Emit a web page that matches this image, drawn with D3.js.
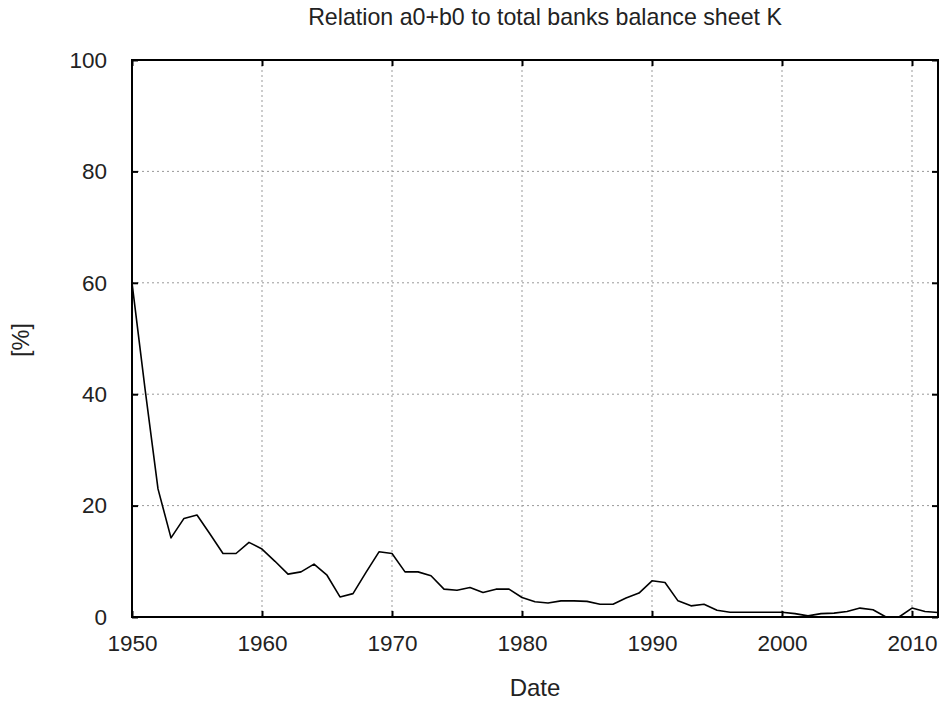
<!DOCTYPE html>
<html>
<head>
<meta charset="utf-8">
<script src="https://cdn.jsdelivr.net/npm/d3@7"></script>
<style>
    body { margin: 0; background: #fff; }
    svg { display: block; font-family: "Liberation Sans", Arial, sans-serif; }
    .grid line { stroke: #999; stroke-dasharray: 2,3; stroke-width: 1; }
</style>
</head>
<body>
<div id="chart"></div>
<script>

// yearly values
let years = [1950, 1951, 1952, 1953, 1954, 1955, 1956, 1957, 1958, 1959,
    1960, 1961, 1962, 1963, 1964, 1965, 1966, 1967, 1968, 1969,
    1970, 1971, 1972, 1973, 1974, 1975, 1976, 1977, 1978, 1979,
    1980, 1981, 1982, 1983, 1984, 1985, 1986, 1987, 1988, 1989,
    1990, 1991, 1992, 1993, 1994, 1995, 1996, 1997, 1998, 1999,
    2000, 2001, 2002, 2003, 2004, 2005, 2006, 2007, 2008, 2009,
    2010, 2011, 2012];
let ratio = [60, 41, 23, 14.2, 17.7, 18.3, 14.9, 11.4, 11.4, 13.4,
    12.2, 10, 7.7, 8.1, 9.5, 7.5, 3.6, 4.2, 8, 11.7,
    11.4, 8.1, 8.1, 7.4, 5.0, 4.8, 5.3, 4.4, 5.0, 5.0,
    3.5, 2.75, 2.5, 2.9, 2.9, 2.8, 2.3, 2.3, 3.4, 4.3,
    6.5, 6.2, 2.9, 2.0, 2.3, 1.2, 0.85, 0.85, 0.85, 0.85,
    0.85, 0.6, 0.2, 0.6, 0.7, 1.0, 1.6, 1.3, 0, 0,
    1.6, 1.0, 0.8];

let xTicks = [1950, 1960, 1970, 1980, 1990, 2000, 2010];
let yTicks = [0, 20, 40, 60, 80, 100];

let chartTitle = "Relation a0+b0 to total banks balance sheet K";
let xLabel = "Date";
let yLabel = "[%]";

let margin = {top: 60, right: 4, bottom: 85, left: 132};
let width = 942 - margin.left - margin.right;
let height = 702 - margin.top - margin.bottom;

let svg = d3.select("#chart").append("svg")
    .attr("width", 942)
    .attr("height", 702);

let g = svg.append("g")
    .attr("transform", `translate(${margin.left}, ${margin.top})`);

let x = d3.scaleLinear().domain([1950, 2012]).range([0, width]);
let y = d3.scaleLinear().domain([0, 100]).range([height, 0]);

// dotted grid
let grid = g.append("g").attr("class", "grid");
grid.selectAll("line.v")
    .data(xTicks.filter(d => d > 1950))
    .enter().append("line")
    .attr("class", "v")
    .attr("x1", d => x(d)).attr("x2", d => x(d))
    .attr("y1", 0).attr("y2", height);
grid.selectAll("line.h")
    .data(yTicks.filter(d => d > 0 && d < 100))
    .enter().append("line")
    .attr("class", "h")
    .attr("x1", 0).attr("x2", width)
    .attr("y1", d => y(d)).attr("y2", d => y(d));

// axes, ticks pointing inwards like gnuplot
let tickLen = 6;
let xAxis = d3.axisBottom(x).tickValues(xTicks).tickFormat(d3.format("d"))
    .tickSizeInner(-tickLen).tickSizeOuter(0).tickPadding(18);
let yAxis = d3.axisLeft(y).tickValues(yTicks)
    .tickSizeInner(-tickLen).tickSizeOuter(0).tickPadding(25);

let gx = g.append("g")
    .attr("transform", `translate(0, ${height})`)
    .call(xAxis);
let gy = g.append("g").call(yAxis);

// mirrored ticks on top and right
g.append("g").call(d3.axisTop(x).tickValues(xTicks).tickSizeInner(-tickLen).tickSizeOuter(0).tickFormat(""));
g.append("g").attr("transform", `translate(${width}, 0)`)
    .call(d3.axisRight(y).tickValues(yTicks).tickSizeInner(-tickLen).tickSizeOuter(0).tickFormat(""));

g.selectAll(".domain").remove();
g.selectAll(".tick line").attr("stroke", "#000").attr("stroke-width", 2);
g.selectAll(".tick text")
    .style("font-size", "22.5px")
    .style("font-family", "'Liberation Sans', Arial, sans-serif")
    .attr("fill", "#222");

// frame
g.append("rect")
    .attr("width", width)
    .attr("height", height)
    .attr("fill", "none")
    .attr("stroke", "#000")
    .attr("stroke-width", 2);

// data line
let line = d3.line()
    .x((d, i) => x(years[i]))
    .y(d => y(d));

g.append("path")
    .datum(ratio)
    .attr("fill", "none")
    .attr("stroke", "#000")
    .attr("stroke-width", 1.6)
    .attr("stroke-linejoin", "round")
    .attr("d", line);

// titles
svg.append("text")
    .attr("x", 545)
    .attr("y", 25)
    .attr("text-anchor", "middle")
    .style("font-size", "23.2px")
    .attr("fill", "#222")
    .text(chartTitle);

svg.append("text")
    .attr("x", margin.left + width / 2)
    .attr("y", 696)
    .attr("text-anchor", "middle")
    .style("font-size", "24px")
    .attr("fill", "#222")
    .text(xLabel);

svg.append("text")
    .attr("transform", `translate(29, 340) rotate(-90)`)
    .attr("text-anchor", "middle")
    .style("font-size", "23.5px")
    .attr("fill", "#222")
    .text(yLabel);

</script>
</body>
</html>
